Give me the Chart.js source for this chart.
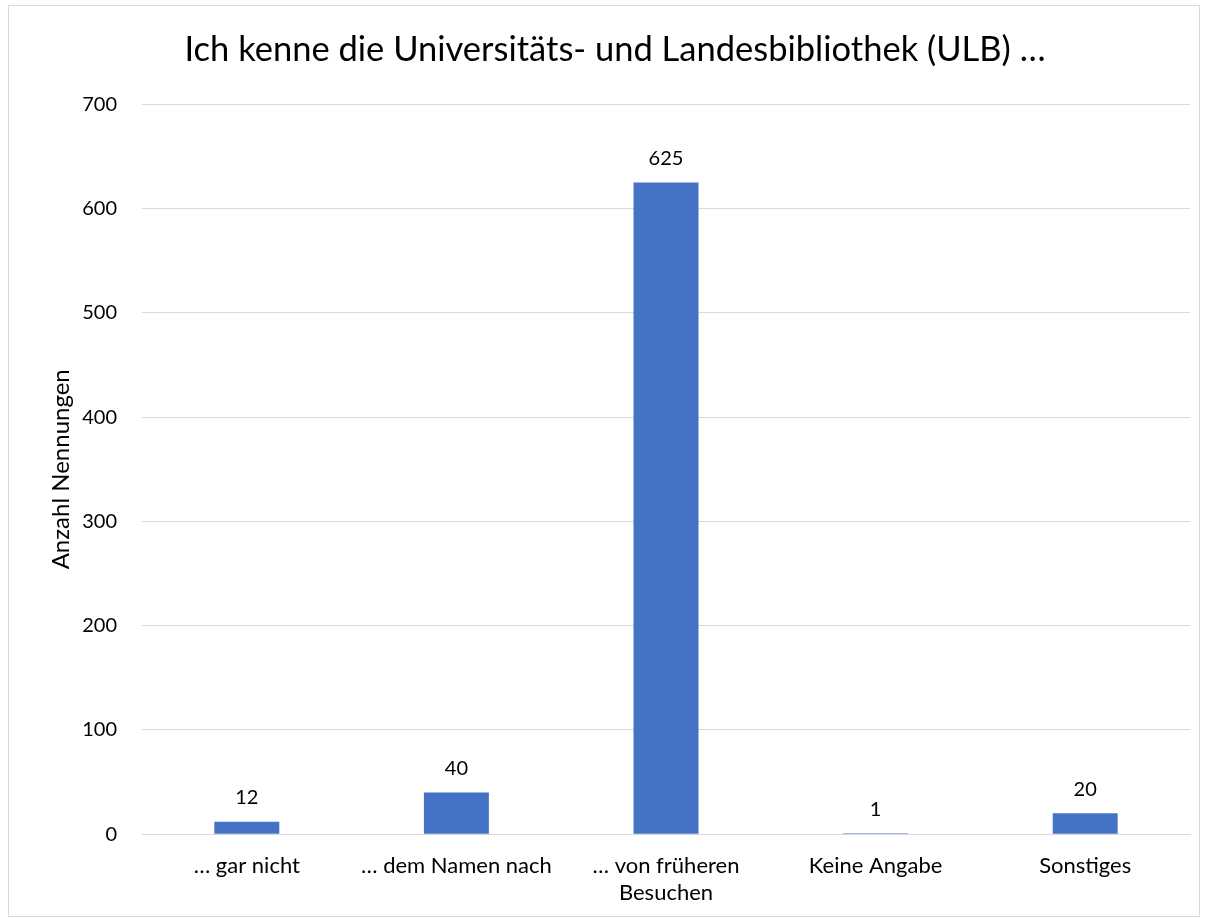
<!DOCTYPE html>
<html>
<head>
<meta charset="utf-8">
<script src="https://cdn.jsdelivr.net/npm/chart.js@4/dist/chart.umd.min.js"></script>
<style>
  html, body { margin: 0; padding: 0; background: #fff; }
  #wrap { position: relative; width: 1210px; height: 919px; }
  #frame { position: absolute; left: 8px; top: 5px; width: 1192px; height: 912px; border: 1px solid #d9d9d9; box-sizing: border-box; pointer-events: none; }
</style>
</head>
<body>
<div id="wrap">
  <canvas id="chart" width="1210" height="919"></canvas>
  <div id="frame"></div>
</div>
<script>
// Data
const categories = ['… gar nicht', '… dem Namen nach', ['… von früheren', 'Besuchen'], 'Keine Angabe', 'Sonstiges'];
const counts = [12, 40, 625, 1, 20];
const yTicks = [0, 100, 200, 300, 400, 500, 600, 700];

const fontFamily = 'Lato, "Open Sans", sans-serif';

// draw value labels above each bar
const valueLabels = {
    id: 'valueLabels',
    afterDatasetsDraw(chart) {
        const ctx = chart.ctx;
        const meta = chart.getDatasetMeta(0);
        ctx.save();
        ctx.font = '20px ' + fontFamily;
        ctx.fillStyle = '#000';
        ctx.textAlign = 'center';
        ctx.textBaseline = 'bottom';
        meta.data.forEach((bar, i) => {
            ctx.fillText(String(counts[i]), bar.x, bar.y - 14);
        });
        ctx.restore();
    }
};

const chartCanvas = document.getElementById('chart');
const chartContext = chartCanvas.getContext('2d');

window.ulbChart = new Chart(chartContext, {
    type: 'bar',
    data: {
        labels: categories,
        datasets: [{
            label: 'Anzahl Nennungen',
            data: counts,
            backgroundColor: '#4472C4',
            borderWidth: 0,
            categoryPercentage: 1,
            barPercentage: 0.31
        }]
    },
    options: {
        responsive: false,
        animation: false,
        layout: {
            padding: { left: 40, right: 20, top: 14, bottom: 2 }
        },
        plugins: {
            legend: { display: false },
            tooltip: { enabled: false },
            title: {
                display: true,
                text: 'Ich kenne die Universitäts- und Landesbibliothek (ULB) …',
                color: '#000',
                font: { family: fontFamily, size: 34.5, weight: 'normal' },
                padding: { top: 15, bottom: 34 }
            }
        },
        scales: {
            y: {
                min: 0,
                max: 700,
                afterBuildTicks(axis) {
                    axis.ticks = yTicks.map(v => ({ value: v }));
                },
                afterFit(axis) {
                    axis.width = 102;
                },
                grid: { color: '#d9d9d9', lineWidth: 1, drawTicks: false },
                border: { display: false },
                ticks: {
                    color: '#000',
                    padding: 25,
                    font: { family: fontFamily, size: 20 }
                },
                title: {
                    display: true,
                    text: 'Anzahl Nennungen',
                    color: '#000',
                    font: { family: fontFamily, size: 24 },
                    padding: { top: 7, bottom: 0 }
                }
            },
            x: {
                grid: { display: false },
                border: { display: true, color: '#d9d9d9' },
                ticks: {
                    color: '#000',
                    padding: 11,
                    maxRotation: 0,
                    font: { family: fontFamily, size: 22 }
                }
            }
        }
    },
    plugins: [valueLabels]
});
</script>
</body>
</html>
